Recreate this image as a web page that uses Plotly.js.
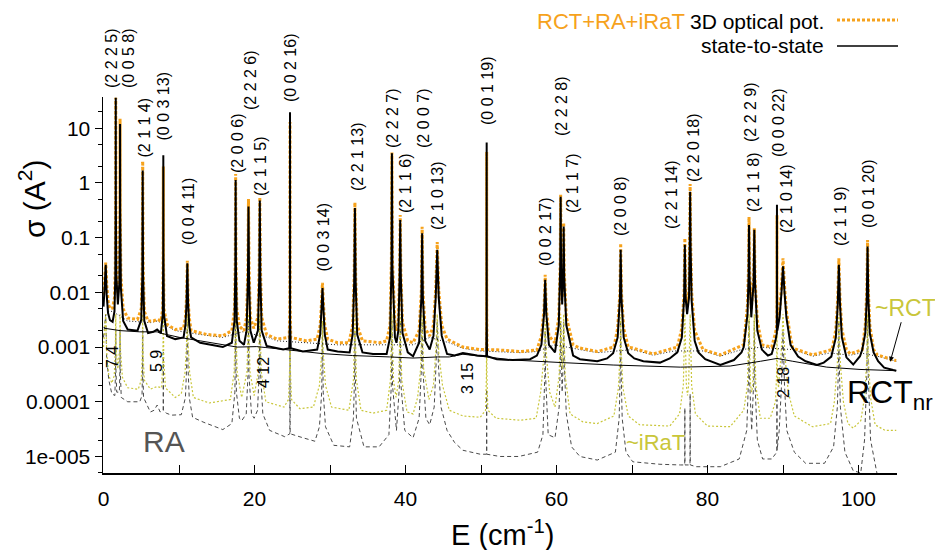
<!DOCTYPE html>
<html>
<head>
<meta charset="utf-8">
<script src="https://cdn.plot.ly/plotly-3.0.1.min.js"></script>
<style>
  html, body { margin: 0; padding: 0; background: #fff; }
  #chart { width: 935px; height: 550px; }
</style>
</head>
<body>
<div id="chart"></div>
<script>
// Cross sections sigma (A^2) versus collision energy E (cm^-1), as [E, sigma] pairs.

// 3D optical potential, RCT+RA+iRaT (orange dotted)
const optTotal = [
  [0,0.009],[0.15,0.018],[0.29,0.035],[0.45,0.012],[0.65,0.006],[0.9,0.005],[1.2,0.0052],
  [1.45,0.008],[1.56,0.03],[1.605,0.5],[1.62,36],[1.635,0.5],[1.7,0.03],[1.9,0.01],
  [2.1,0.025],[2.175,0.4],[2.19,15],[2.205,0.4],[2.3,0.02],[2.6,0.005],[3.2,0.0034],[4.5,0.0032],
  [5.0,0.005],[5.13,0.03],[5.19,2.5],[5.25,0.03],[5.4,0.0045],[5.9,0.003],[6.6,0.003],[7.1,0.0032],
  [7.6,0.003],[7.84,0.005],[7.9,0.05],[7.92,2.0],[7.94,0.05],[8.0,0.005],[8.4,0.0026],[9.5,0.0021],
  [10.6,0.0022],[10.85,0.0035],[11.0,0.008],[11.1,0.038],[11.2,0.008],[11.35,0.0035],[11.6,0.002],
  [13.7,0.0017],[15.8,0.0016],[17.0,0.002],[17.35,0.005],[17.45,0.04],[17.5,1.46],[17.55,0.04],
  [17.65,0.005],[18.0,0.0024],[18.6,0.002],[18.95,0.0035],[19.12,0.03],[19.2,0.51],[19.28,0.03],
  [19.45,0.0035],[19.9,0.0022],[20.45,0.0035],[20.62,0.03],[20.7,0.55],[20.78,0.03],[20.95,0.0035],
  [21.6,0.0017],[23.0,0.0014],[24.6,0.0015],[24.68,0.006],[24.7,13],[24.72,0.006],[24.8,0.0015],
  [26.9,0.0013],[28.3,0.0014],[28.7,0.0025],[28.9,0.0075],[29.0,0.015],[29.1,0.0075],[29.3,0.0025],
  [29.7,0.0014],[31.0,0.0012],[32.5,0.0012],[33.0,0.0025],[33.2,0.02],[33.3,0.44],[33.4,0.02],
  [33.6,0.0025],[34.3,0.0013],[36.6,0.0012],[37.5,0.0013],[37.95,0.0025],[38.13,0.04],[38.2,3.6],
  [38.27,0.04],[38.6,0.0025],[38.8,0.002],[39.05,0.003],[39.22,0.025],[39.3,0.26],[39.38,0.025],
  [39.6,0.0028],[40.3,0.0013],[41.0,0.0012],[41.8,0.002],[42.1,0.011],[42.2,0.158],[42.3,0.011],
  [42.6,0.0022],[43.2,0.0016],[43.7,0.0025],[44.0,0.011],[44.2,0.083],[44.4,0.011],[44.8,0.0025],
  [45.5,0.0014],[47.6,0.001],[49.9,0.0009],[50.72,0.0009],[50.74,0.004],[50.75,3.7],[50.76,0.004],
  [50.8,0.0009],[52.1,0.00089],[55.2,0.00083],[57.4,0.00088],[58.0,0.0016],[58.35,0.005],[58.5,0.021],
  [58.65,0.005],[59.0,0.0016],[59.8,0.0012],[60.3,0.0035],[60.49,0.035],[60.55,0.61],[60.61,0.035],
  [60.75,0.008],[60.88,0.025],[60.95,0.19],[61.02,0.025],[61.3,0.0035],[62.2,0.0011],[63.1,0.00096],
  [65.4,0.00083],[67.6,0.001],[68.1,0.0022],[68.4,0.01],[68.5,0.079],[68.6,0.01],[68.9,0.0022],
  [69.5,0.001],[70.1,0.00096],[72.8,0.00075],[76.0,0.001],[76.6,0.0022],[76.9,0.01],[77.0,0.098],
  [77.1,0.01],[77.3,0.006],[77.55,0.011],[77.64,0.1],[77.7,0.96],[77.76,0.1],[77.9,0.01],[78.3,0.002],
  [79.4,0.0009],[81.7,0.00072],[84.8,0.0011],[85.3,0.006],[85.44,0.03],[85.5,0.24],[85.56,0.03],
  [85.8,0.005],[86.1,0.017],[86.2,0.15],[86.3,0.017],[86.6,0.003],[87.2,0.0011],[88.5,0.001],
  [89.0,0.0018],[89.18,0.0025],[89.195,0.01],[89.2,0.26],[89.205,0.01],[89.25,0.0027],[89.55,0.0045],
  [89.8,0.013],[90.0,0.042],[90.2,0.013],[90.45,0.0045],[91.0,0.0015],[91.3,0.00096],[93.9,0.00072],
  [96.5,0.0009],[97.0,0.0021],[97.25,0.008],[97.4,0.042],[97.55,0.008],[97.8,0.0021],[98.4,0.0009],
  [98.9,0.00075],[100.5,0.0009],[100.9,0.0025],[101.1,0.011],[101.2,0.091],[101.3,0.011],[101.5,0.0025],
  [102.0,0.0009],[102.5,0.00072],[104.6,0.00058],[105,0.00057]
];

// state-to-state, RCT+RA+iRaT (thin black dotted)
const stsTotal = [
  [0.6,0.0045],[1.2,0.0045],[3.2,0.003],[4.6,0.0029],[6.2,0.0028],[7.1,0.003],[7.6,0.0028],
  [9.5,0.002],[12.8,0.0017],[15.8,0.0015],[18.4,0.0019],[21.8,0.0015],[23.0,0.0013],[26.9,0.0012],
  [31.0,0.0011],[32.5,0.0011],[36.6,0.0011],[41.0,0.0011],[43.2,0.0015],[45.8,0.0012],[47.6,0.00095],
  [49.9,0.00085],[55.2,0.00079],[57.4,0.00083],[59.8,0.0011],[63.1,0.0009],[65.4,0.00079],
  [70.1,0.0009],[72.8,0.00071],[75.6,0.00085],[79.4,0.00085],[81.7,0.00068],[84.5,0.0009],
  [87.2,0.001],[88.5,0.00095],[91.3,0.0009],[93.9,0.00068],[96.2,0.00078],[98.9,0.00071],
  [100.3,0.00078],[102.5,0.00068],[105,0.00055]
];

// state-to-state, RCT (thick black)
const stsRCT = [
  [0,0.0055],[0.15,0.013],[0.29,0.032],[0.42,0.009],[0.6,0.0042],[0.85,0.0031],[1.2,0.0029],
  [1.45,0.0045],[1.56,0.02],[1.605,0.4],[1.62,36],[1.635,0.4],[1.7,0.02],[1.9,0.006],
  [2.1,0.015],[2.175,0.3],[2.19,12],[2.205,0.3],[2.3,0.012],[2.6,0.003],[3.2,0.0021],[4.5,0.002],
  [5.0,0.0032],[5.14,0.02],[5.19,1.7],[5.24,0.02],[5.4,0.003],[5.9,0.0018],[6.6,0.0019],[7.1,0.0021],
  [7.6,0.0018],[7.85,0.004],[7.91,0.05],[7.92,3.2],[7.93,0.05],[8.0,0.004],[8.4,0.0016],[9.5,0.0014],
  [10.6,0.0015],[10.85,0.0025],[11.0,0.0065],[11.1,0.034],[11.2,0.0065],[11.35,0.0025],[11.6,0.0015],
  [12.8,0.0012],[15.8,0.001],[17.0,0.0012],[17.35,0.003],[17.46,0.03],[17.5,1.13],[17.54,0.03],
  [17.65,0.003],[18.0,0.0013],[18.6,0.0011],[18.95,0.002],[19.13,0.02],[19.2,0.37],[19.27,0.02],
  [19.45,0.002],[19.9,0.0012],[20.45,0.002],[20.63,0.02],[20.7,0.48],[20.77,0.02],[20.95,0.002],
  [21.6,0.00105],[23.8,0.0009],[24.6,0.00095],[24.69,0.003],[24.7,19.6],[24.71,0.003],[24.8,0.00095],
  [26.4,0.00083],[28.3,0.0009],[28.7,0.0017],[28.9,0.006],[29.0,0.012],[29.1,0.006],[29.3,0.0017],
  [29.7,0.0009],[31.0,0.00083],[32.6,0.0008],[33.0,0.0017],[33.2,0.015],[33.3,0.35],[33.4,0.015],
  [33.6,0.0017],[34.3,0.0008],[35.7,0.00075],[37.5,0.00075],[37.95,0.0015],[38.14,0.03],[38.2,3.5],
  [38.26,0.03],[38.6,0.0015],[38.8,0.0012],[39.05,0.002],[39.22,0.02],[39.3,0.21],[39.38,0.02],
  [39.6,0.0018],[40.3,0.0008],[41.0,0.00068],[41.8,0.0012],[42.1,0.008],[42.2,0.12],[42.3,0.008],
  [42.6,0.0013],[43.2,0.0009],[43.7,0.0016],[44.0,0.008],[44.2,0.06],[44.4,0.008],[44.8,0.0016],
  [45.5,0.00075],[46.5,0.0007],[47.6,0.00078],[49.5,0.0007],[50.7,0.00068],[50.74,0.003],[50.75,5.5],
  [50.76,0.003],[50.8,0.00068],[52.1,0.0006],[54.2,0.00058],[56.5,0.0006],[57.4,0.0007],[58.0,0.0011],
  [58.35,0.004],[58.5,0.017],[58.65,0.004],[59.0,0.0011],[59.8,0.0008],[60.3,0.0025],[60.49,0.03],
  [60.55,0.56],[60.61,0.03],[60.75,0.006],[60.88,0.02],[60.95,0.16],[61.02,0.02],[61.3,0.0025],
  [62.2,0.0007],[63.1,0.0006],[65.4,0.00055],[66.7,0.00062],[67.5,0.00077],[68.1,0.0015],[68.4,0.008],
  [68.5,0.06],[68.6,0.008],[68.9,0.0015],[69.5,0.00077],[70.3,0.00062],[71.5,0.00055],[73.7,0.00052],
  [75.0,0.00062],[76.0,0.0008],[76.6,0.0015],[76.9,0.008],[77.0,0.074],[77.1,0.008],[77.3,0.004],
  [77.55,0.008],[77.64,0.07],[77.7,0.69],[77.76,0.07],[77.9,0.007],[78.3,0.0013],[78.8,0.0008],
  [79.7,0.0006],[81.7,0.00047],[83.5,0.00058],[84.5,0.0008],[84.8,0.001],[85.3,0.004],[85.44,0.02],
  [85.5,0.17],[85.56,0.02],[85.8,0.0035],[86.1,0.015],[86.2,0.14],[86.3,0.015],[86.6,0.002],
  [87.2,0.0009],[88.0,0.0007],[88.5,0.00075],[89.0,0.0013],[89.18,0.0018],[89.195,0.01],[89.2,0.4],
  [89.205,0.01],[89.25,0.002],[89.55,0.0035],[89.8,0.01],[90.0,0.03],[90.2,0.01],[90.45,0.0035],
  [91.0,0.0011],[92.0,0.00067],[93.0,0.00055],[94.5,0.00047],[95.4,0.00052],[96.4,0.00067],
  [97.0,0.0015],[97.25,0.006],[97.4,0.032],[97.55,0.006],[97.8,0.0015],[98.4,0.00065],[99.3,0.00048],
  [100.2,0.00068],[100.5,0.0009],[100.9,0.0018],[101.1,0.008],[101.2,0.069],[101.3,0.008],
  [101.5,0.0018],[102.0,0.0008],[102.6,0.00055],[103.4,0.00042],[104.6,0.00038],[105,0.00037]
];

// non-resonant RCT (thin black)
const rctNR = [
  [0,0.0023],[0.2,0.0022],[2.2,0.002],[4.8,0.0019],[7.1,0.0019],[7.5,0.0018],[10.1,0.0015],
  [12.8,0.0013],[17.7,0.001],[20.3,0.00102],[21.5,0.00098],[24.7,0.00088],[29.0,0.00076],
  [33.0,0.0007],[37.9,0.00066],[41.0,0.00063],[44.2,0.00066],[45.8,0.00066],[47.6,0.00074],
  [50.8,0.00066],[54.2,0.00058],[60.8,0.00052],[67.5,0.00047],[76.4,0.00043],[83.0,0.00045],
  [87.0,0.00055],[89.2,0.00062],[91.3,0.00055],[95.8,0.00043],[100.2,0.00039],[105,0.00037]
];

// ~iRaT (yellow-green dotted)
const iRaT = [
  [0,0.001],[0.15,0.002],[0.29,0.004],[0.42,0.0008],[0.7,0.0003],[1.1,0.00022],[1.42,0.0003],
  [1.56,0.0009],[1.62,0.004],[1.68,0.0009],[1.9,0.0004],[2.13,0.0009],[2.19,0.004],[2.25,0.0009],
  [2.5,0.00028],[3.2,0.00018],[4.6,0.00017],[5.0,0.00025],[5.13,0.0007],[5.19,0.004],[5.25,0.0007],
  [5.4,0.00025],[6.2,0.00017],[7.1,0.00019],[7.7,0.00018],[7.86,0.0006],[7.92,0.004],[7.98,0.0006],
  [8.2,0.00018],[9.5,0.00012],[10.3,0.00014],[10.8,0.00035],[11.0,0.0012],[11.1,0.004],[11.2,0.0012],
  [11.4,0.00035],[11.9,0.00012],[14.0,0.000095],[16.8,0.00011],[17.3,0.00035],[17.5,0.004],
  [17.7,0.00035],[18.3,0.00012],[19.0,0.00035],[19.2,0.004],[19.4,0.00035],[19.95,0.00013],
  [20.5,0.00035],[20.7,0.004],[20.9,0.00035],[21.5,0.0001],[23.9,0.00008],[24.5,0.00011],
  [24.65,0.0004],[24.7,0.004],[24.75,0.0004],[24.9,0.00011],[26.0,0.000075],[27.8,0.00008],
  [28.6,0.0002],[28.9,0.0008],[29.0,0.003],[29.1,0.0008],[29.4,0.0002],[30.2,0.00008],[32.5,0.00007],
  [33.1,0.00025],[33.3,0.004],[33.5,0.00025],[34.1,0.00007],[35.7,0.000062],[37.5,0.00007],
  [38.0,0.00025],[38.2,0.004],[38.4,0.00025],[38.75,0.00012],[39.1,0.00025],[39.3,0.004],
  [39.5,0.00025],[40.2,0.000065],[41.0,0.00006],[41.6,0.00012],[42.0,0.0004],[42.2,0.004],
  [42.4,0.0004],[43.1,0.00011],[43.7,0.0002],[44.0,0.0008],[44.2,0.004],[44.4,0.0008],[44.9,0.0002],
  [45.8,0.00007],[47.6,0.000055],[49.9,0.000052],[50.6,0.00007],[50.72,0.0003],[50.75,0.003],
  [50.78,0.0003],[50.9,0.00007],[52.0,0.00005],[55.2,0.000046],[57.3,0.00005],[57.9,0.00015],
  [58.3,0.0006],[58.5,0.003],[58.7,0.0006],[59.1,0.00015],[59.8,0.00008],[60.35,0.0003],[60.55,0.004],
  [60.75,0.0004],[60.95,0.004],[61.15,0.0003],[61.8,0.00006],[63.5,0.000043],[65.4,0.00004],
  [67.6,0.000055],[68.2,0.00018],[68.4,0.0007],[68.5,0.004],[68.6,0.0007],[68.8,0.00018],
  [69.5,0.000055],[71.0,0.000038],[75.0,0.000036],[76.3,0.00006],[76.8,0.0002],[77.0,0.004],
  [77.2,0.0002],[77.35,0.00013],[77.5,0.0002],[77.7,0.004],[77.9,0.0002],[78.4,0.00006],[80.0,0.000036],
  [83.0,0.000035],[84.8,0.00007],[85.3,0.0002],[85.5,0.004],[85.7,0.0002],[85.85,0.00015],[86.0,0.0002],
  [86.2,0.004],[86.4,0.0002],[87.0,0.00005],[88.3,0.00005],[89.0,0.0001],[89.15,0.0003],[89.2,0.003],
  [89.25,0.0003],[89.4,0.00018],[89.7,0.0006],[89.9,0.0018],[90.0,0.004],[90.1,0.0018],[90.3,0.0006],
  [90.7,0.00015],[91.5,0.000055],[93.9,0.000035],[96.3,0.00004],[96.8,0.0001],[97.2,0.0005],
  [97.4,0.004],[97.6,0.0005],[98.0,0.0001],[98.6,0.00004],[99.3,0.000033],[100.3,0.000045],
  [100.8,0.00012],[101.1,0.0006],[101.2,0.004],[101.3,0.0006],[101.6,0.00012],[102.2,0.000038],
  [103.5,0.00003],[105,0.00003]
];

// RA (grey dashed)
const RA = [
  [0,0.0015],[0.15,0.0025],[0.29,0.004],[0.42,0.0006],[0.7,0.00025],[1.1,0.00014],[1.5,0.00013],
  [1.6,0.0004],[1.62,0.002],[1.64,0.0004],[1.75,0.00015],[2.1,0.00015],[2.17,0.0004],[2.19,0.002],
  [2.21,0.0004],[2.35,0.00012],[3.2,0.0001],[4.8,0.0001],[5.1,0.00013],[5.17,0.0004],[5.19,0.002],
  [5.21,0.0004],[5.3,0.00012],[6.2,0.000065],[6.7,0.00007],[7.1,0.000087],[7.5,0.000065],[7.9,0.00007],
  [7.92,0.0008],[7.94,0.00007],[8.3,0.000062],[9.0,0.000057],[10.3,0.000058],[10.85,0.00012],
  [11.0,0.0004],[11.1,0.003],[11.2,0.0004],[11.35,0.00012],[11.8,0.000052],[13.3,0.000042],
  [15.8,0.000031],[17.0,0.00004],[17.4,0.00015],[17.5,0.003],[17.6,0.00015],[18.0,0.00005],
  [18.3,0.000045],[18.9,0.00006],[19.13,0.0003],[19.2,0.003],[19.27,0.0003],[19.6,0.00006],
  [19.95,0.00005],[20.4,0.00007],[20.63,0.0004],[20.7,0.003],[20.77,0.0004],[21.1,0.00006],
  [22.0,0.00003],[24.0,0.000023],[24.68,0.000026],[24.7,0.002],[24.72,0.000026],[26.4,0.000022],
  [28.0,0.000019],[28.6,0.000035],[28.9,0.00015],[29.0,0.002],[29.1,0.00015],[29.4,0.000035],
  [30.5,0.000016],[32.6,0.000015],[33.1,0.00005],[33.25,0.0003],[33.3,0.002],[33.35,0.0003],
  [33.5,0.00005],[34.5,0.000015],[36.5,0.000015],[37.8,0.000025],[38.12,0.0002],[38.2,0.003],
  [38.28,0.0002],[38.8,0.00003],[39.2,0.0002],[39.3,0.003],[39.4,0.0002],[39.9,0.00003],[41.0,0.000022],
  [41.8,0.00005],[42.1,0.0004],[42.2,0.003],[42.3,0.0004],[42.7,0.00005],[43.2,0.000038],[43.8,0.00008],
  [44.05,0.0005],[44.2,0.003],[44.35,0.0005],[44.7,0.00008],[45.5,0.00003],[46.5,0.000018],
  [47.6,0.000013],[49.9,0.000011],[50.73,0.000011],[50.75,0.00017],[50.77,0.000011],[52.5,0.00001],
  [55.0,0.00001],[57.5,0.000012],[58.2,0.000025],[58.45,0.0003],[58.5,0.002],[58.55,0.0003],
  [58.9,0.000025],[59.8,0.000022],[60.35,0.00008],[60.5,0.0005],[60.55,0.003],[60.65,0.0005],
  [60.75,0.00015],[60.88,0.0005],[60.95,0.003],[61.05,0.0004],[61.3,0.00006],[62.0,0.000015],
  [63.1,0.00001],[65.4,0.0000086],[67.8,0.000012],[68.3,0.00005],[68.45,0.0004],[68.5,0.003],
  [68.55,0.0004],[68.7,0.00005],[69.2,0.000012],[70.1,0.000008],[73.7,0.0000072],[76.4,0.000007],
  [76.98,0.000007],[77.0,0.000077],[77.02,0.000007],[77.68,0.000007],[77.7,0.00014],[77.72,0.000007],
  [78.5,0.0000065],[81.7,0.0000065],[84.2,0.000009],[85.2,0.00003],[85.45,0.0003],[85.5,0.003],
  [85.55,0.0003],[85.85,0.00003],[86.15,0.0003],[86.2,0.003],[86.25,0.0003],[86.6,0.00002],
  [87.3,0.000009],[88.5,0.000009],[89.18,0.000012],[89.2,0.00011],[89.22,0.000013],[89.5,0.00003],
  [89.8,0.0002],[90.0,0.002],[90.2,0.0002],[90.5,0.00003],[91.5,0.000012],[93.0,0.0000075],
  [95.5,0.0000075],[96.7,0.000015],[97.2,0.00008],[97.35,0.0005],[97.4,0.003],[97.45,0.0005],
  [97.6,0.00008],[98.2,0.000012],[99.3,0.0000055],[100.3,0.000005],[100.8,0.00002],[101.1,0.0003],
  [101.2,0.003],[101.3,0.0003],[101.6,0.00002],[102.5,0.0000045],[105,0.000004]
];

// Resonance assignments written above the peaks
const resonanceLabels = [
  '(2 2 2 5)','(0 0 5 8)','(2 1 1 4)','(0 0 3 13)','(0 0 4 11)','(2 0 0 6)','(2 2 2 6)','(2 1 1 5)',
  '(0 0 2 16)','(0 0 3 14)','(2 2 1 13)','(2 2 2 7)','(2 1 1 6)','(2 0 0 7)','(2 1 0 13)','(0 0 1 19)',
  '(0 0 2 17)','(2 2 2 8)','(2 1 1 7)','(2 0 0 8)','(2 2 1 14)','(2 2 0 18)','(2 2 2 9)','(2 1 1 8)',
  '(0 0 0 22)','(2 1 0 14)','(2 1 1 9)','(0 0 1 20)'
];
// (v j) labels of the narrow RA resonances
const raLabels = ['7 4','5 9','4 12','3 15','2 18'];

// axis ticks and their printed form
const yTickVals = [1e-5, 1e-4, 1e-3, 1e-2, 0.1, 1, 10];
const yTickText = ['1e-005','0.0001','0.001','0.01','0.1','1','10'];
const xTickVals = [0,20,40,60,80,100];
const xTickText = ['0','20','40','60','80','100'];
const xMinorVals = [10,30,50,70,90];

// ---------- layout helpers (pixel placement inside the 935x550 page) ----------
const M = {l: 103, r: 38, t: 97, b: 77};
const PW = 935 - M.l - M.r, PH = 550 - M.t - M.b;
const px = v => (v - M.l) / PW;
const py = v => (550 - M.b - v) / PH;

const FONT = 'Liberation Sans, Arial, Helvetica, sans-serif';
const ORANGE = '#f6a21c';
const OLIVE = '#c9c63a';

// label centres in page pixels, same order as the label arrays
const resonanceLabelPos = [
  [112,58],[129,58],[143.5,128],[163.5,107],[188,212],[237,143],[250,80],[260,166],
  [290,68],[322.5,238],[357,157],[392,118],[405,183],[423,118],[437,196],[487,91],
  [545,232],[561,106],[572,183],[620,206],[671,195],[693,148],[750,112],[753,182],
  [778,123],[786,199],[840,216],[868,194]
];
const raLabelPos = [[112,357],[156,361],[263,373],[467,379],[783,383]];

const line = (pts, name, style) => ({
  type: 'scatter', mode: 'lines', name,
  x: pts.map(p => p[0]), y: pts.map(p => p[1]),
  line: Object.assign({simplify: false}, style),
  hoverinfo: 'skip', showlegend: false
});

const traces = [
  line(RA, 'RA', {color: '#4a4a4a', width: 1, dash: '4px,3px'}),
  line(iRaT, '~iRaT', {color: OLIVE, width: 1.2, dash: '2px,2px'}),
  line(rctNR, 'RCT_nr', {color: '#000', width: 1}),
  line(stsTotal, 'state-to-state RCT+RA+iRaT', {color: '#222', width: 1, dash: '1px,2px'}),
  line(optTotal, '3D optical pot. RCT+RA+iRaT', {color: ORANGE, width: 3, dash: '3px,2px'}),
  line(stsRCT, 'state-to-state RCT', {color: '#000', width: 2})
];

const annotations = [];
resonanceLabels.forEach((t, i) => annotations.push({
  xref: 'paper', yref: 'paper', x: px(resonanceLabelPos[i][0]), y: py(resonanceLabelPos[i][1]),
  text: t, showarrow: false, textangle: -90, xanchor: 'center', yanchor: 'middle',
  font: {family: FONT, size: 16, color: '#000'}
}));
raLabels.forEach((t, i) => annotations.push({
  xref: 'paper', yref: 'paper', x: px(raLabelPos[i][0]), y: py(raLabelPos[i][1]),
  text: t, showarrow: false, textangle: -90, xanchor: 'center', yanchor: 'middle',
  font: {family: FONT, size: 16, color: '#000'}
}));

// curve names
annotations.push(
  {xref: 'paper', yref: 'paper', x: px(164), y: py(441), text: 'RA', showarrow: false,
   xanchor: 'center', yanchor: 'middle', font: {family: FONT, size: 30, color: '#555'}},
  {xref: 'paper', yref: 'paper', x: px(655), y: py(442), text: '~iRaT', showarrow: false,
   xanchor: 'center', yanchor: 'middle', font: {family: FONT, size: 22, color: OLIVE}},
  {xref: 'x', yref: 'y', x: 104.2, y: Math.log10(0.00054), text: '~RCT', showarrow: true,
   ax: 15, ay: -54, arrowhead: 2, arrowsize: 1, arrowwidth: 1, arrowcolor: '#000',
   font: {family: FONT, size: 23, color: OLIVE}},
  {xref: 'paper', yref: 'paper', x: px(845), y: py(394), text: 'RCT<sub>nr</sub>', showarrow: false,
   xanchor: 'left', yanchor: 'middle', font: {family: FONT, size: 32, color: '#000'}}
);

// legend block
annotations.push(
  {xref: 'paper', yref: 'paper', x: px(687), y: py(21), text: 'RCT+RA+iRaT', showarrow: false,
   xanchor: 'right', yanchor: 'middle', font: {family: FONT, size: 22, color: ORANGE}},
  {xref: 'paper', yref: 'paper', x: px(826), y: py(21), text: '3D optical pot.', showarrow: false,
   xanchor: 'right', yanchor: 'middle', font: {family: FONT, size: 21, color: '#000'}},
  {xref: 'paper', yref: 'paper', x: px(826), y: py(46), text: 'state-to-state', showarrow: false,
   xanchor: 'right', yanchor: 'middle', font: {family: FONT, size: 21, color: '#000'}}
);

// axis titles
annotations.push(
  {xref: 'paper', yref: 'paper', x: px(502), y: py(533), text: 'E (cm<sup>-1</sup>)', showarrow: false,
   xanchor: 'center', yanchor: 'middle', font: {family: FONT, size: 29, color: '#000'}},
  {xref: 'paper', yref: 'paper', x: px(32), y: py(199), text: 'σ (A<sup>2</sup>)', showarrow: false,
   textangle: -90, xanchor: 'center', yanchor: 'middle', font: {family: FONT, size: 30, color: '#000'}}
);

const shapes = [
  {type: 'line', xref: 'paper', yref: 'paper', x0: px(837), x1: px(898), y0: py(20), y1: py(20),
   line: {color: ORANGE, width: 3, dash: '3px,2px'}},
  {type: 'line', xref: 'paper', yref: 'paper', x0: px(837), x1: px(898), y0: py(46), y1: py(46),
   line: {color: '#000', width: 1.3}}
];

const minorY = [];
[-6, -5, -4, -3, -2, -1, 0, 1].forEach(e => { [2, 5].forEach(m => minorY.push(m * Math.pow(10, e))); });

const layout = {
  width: 935, height: 550,
  margin: {l: M.l, r: M.r, t: M.t, b: M.b, pad: 0},
  paper_bgcolor: '#fff', plot_bgcolor: '#fff',
  font: {family: FONT, color: '#000'},
  showlegend: false,
  xaxis: {
    range: [-0.07, 105.1], showgrid: false, zeroline: false,
    showline: true, linecolor: '#000', linewidth: 1.5, mirror: false,
    tickmode: 'array', tickvals: xTickVals, ticktext: xTickText,
    ticks: 'inside', ticklen: 8, tickwidth: 1, tickcolor: '#000',
    tickfont: {family: FONT, size: 21, color: '#000'}, ticklabelstandoff: 6,
    minor: {tickmode: 'array', tickvals: xMinorVals, ticks: 'inside', ticklen: 8, tickwidth: 1, tickcolor: '#000', showgrid: false}
  },
  yaxis: {
    type: 'log', range: [-5.302, 1.572], showgrid: false, zeroline: false,
    showline: true, linecolor: '#000', linewidth: 1.5, mirror: false,
    tickmode: 'array', tickvals: yTickVals, ticktext: yTickText,
    ticks: 'outside', ticklen: 7, tickwidth: 1, tickcolor: '#000',
    tickfont: {family: FONT, size: 21, color: '#000'},
    minor: {tickmode: 'array', tickvals: minorY, ticks: 'outside', ticklen: 4, tickwidth: 1, tickcolor: '#000', showgrid: false}
  },
  annotations, shapes
};

Plotly.newPlot('chart', traces, layout, {staticPlot: true, displayModeBar: false});
</script>
</body>
</html>
